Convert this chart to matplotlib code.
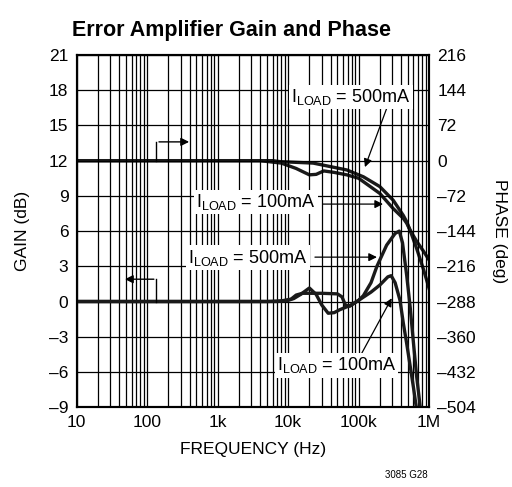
import numpy as np
import matplotlib
matplotlib.use('Agg')
import matplotlib.pyplot as plt
from matplotlib.ticker import FixedLocator, NullFormatter

plt.rcParams['font.family'] = ['Liberation Sans', 'DejaVu Sans']
plt.rcParams['mathtext.fontset'] = 'custom'
plt.rcParams['mathtext.rm'] = 'Liberation Sans'

# ── data ──
gain_100_f = [10, 5e3, 8e3, 11e3, 13e3, 16e3, 30e3, 50e3, 58e3, 65e3, 75e3, 100e3,
              150e3, 200e3, 260e3, 290e3, 330e3, 387e3, 430e3, 482e3, 600e3, 680e3]
gain_100 = [0, 0, 0.05, 0.2, 0.55, 0.7, 0.7, 0.65, 0.4, -0.3, -0.4, 0.1,
            0.8, 1.4, 2.1, 2.2, 1.6, 0.1, -1.8, -3.6, -7.3, -9.6]

gain_500_f = [10, 7e3, 10e3, 12e3, 15e3, 20e3, 25e3, 30e3, 37e3, 45e3, 54e3, 75e3,
              100e3, 117e3, 150e3, 182e3, 250e3, 330e3, 378e3, 420e3, 482e3,
              540e3, 600e3, 670e3, 770e3]
gain_500 = [0, 0, 0.1, 0.25, 0.6, 1.15, 0.6, -0.3, -1.0, -0.95, -0.7, -0.35,
            0.1, 0.5, 1.6, 3.0, 4.8, 5.8, 6.0, 5.0, 2.2, -0.5, -3.5, -6.5, -9.6]

phase_100_f = [10, 4e3, 8e3, 13e3, 20e3, 25e3, 32e3, 45e3, 68e3, 100e3, 117e3,
               200e3, 310e3, 431e3, 482e3, 537e3, 668e3, 832e3, 1e6]
phase_100 = [0, 0, -5, -16, -29, -28, -21, -24, -29, -36, -43,
             -67, -98, -118, -128, -142, -165, -185, -203]

phase_500_f = [10, 6e3, 7.7e3, 22.7e3, 68e3, 117e3, 200e3, 310e3, 431e3, 482e3,
               537e3, 668e3, 832e3, 1e6]
phase_500 = [0, 0, -2, -5, -19, -33, -53, -81, -112, -125, -142, -180, -222, -261]

x_ticks = [10, 100, 1e3, 1e4, 1e5, 1e6]
x_labels = ['10', '100', '1k', '10k', '100k', '1M']
gain_ticks = np.arange(-9, 22, 3)
phase_ticks = np.arange(-504, 217, 72)

load = r'I$_{\mathregular{LOAD}}$'

fig = plt.figure(figsize=(5.12, 4.87), dpi=100)
ax = fig.add_axes([0.150, 0.164, 0.688, 0.723])
ax2 = ax.twinx()

ax.set_xscale('log')
ax.set_xlim(10, 1e6)
ax.set_ylim(-9, 21)
ax2.set_ylim(-504, 216)

ax.set_xticks(x_ticks)
ax.set_xticklabels(x_labels)
ax.xaxis.set_minor_locator(FixedLocator(
    [m * 10.0 ** d for d in range(1, 6) for m in range(2, 10)]))
ax.xaxis.set_minor_formatter(NullFormatter())
ax.set_yticks(gain_ticks)
ax.set_yticklabels([str(v).replace('-', '\u2013') for v in gain_ticks])
ax2.set_yticks(phase_ticks)
ax2.set_yticklabels([str(v).replace('-', '\u2013') for v in phase_ticks])

ax.grid(True, which='both', axis='x', color='black', linewidth=0.9)
ax.grid(True, which='major', axis='y', color='black', linewidth=0.9)
for a in (ax, ax2):
    a.tick_params(which='both', length=0, labelsize=12.5, pad=6)
    for s in a.spines.values():
        s.set_linewidth(1.5)

ax.set_zorder(ax2.get_zorder() + 1)
ax.patch.set_visible(False)

ax.plot(gain_100_f, gain_100, color='#1a1a1a', lw=2.4)
ax.plot(gain_500_f, gain_500, color='#1a1a1a', lw=2.4)
ax2.plot(phase_100_f, phase_100, color='#1a1a1a', lw=2.4)
ax2.plot(phase_500_f, phase_500, color='#1a1a1a', lw=2.4)

# axis indicator arrows
ax.plot([135, 135], [12, 13.6], color='black', lw=1)
ax.annotate('', xy=(430, 13.6), xytext=(134, 13.6),
            arrowprops=dict(arrowstyle='-|>', color='black', lw=1,
                            mutation_scale=12))
ax.plot([135, 135], [0, 1.9], color='black', lw=1)
ax.annotate('', xy=(44, 1.9), xytext=(136, 1.9),
            arrowprops=dict(arrowstyle='-|>', color='black', lw=1,
                            mutation_scale=12))

box = dict(facecolor='white', edgecolor='none', pad=1.5)
arrow = dict(arrowstyle='-|>', color='black', lw=0.9, mutation_scale=12,
             shrinkA=0, shrinkB=0)

# labels with arrows (gain-axis coordinates)
ax.annotate('', xy=(123e3, 11.45), xytext=(252e3, 16.5), arrowprops=arrow)
ax.text(7.8e4, 17.4, load + ' = 500mA', fontsize=13, ha='center', va='center',
        bbox=box)
ax.annotate('', xy=(222e3, 8.3), xytext=(31e3, 8.3), arrowprops=arrow)
ax.text(3.5e3, 8.45, load + ' = 100mA', fontsize=13, ha='center', va='center',
        bbox=box)
ax.annotate('', xy=(182e3, 3.78), xytext=(24e3, 3.78), arrowprops=arrow)
ax.text(2.7e3, 3.74, load + ' = 500mA', fontsize=13, ha='center', va='center',
        bbox=box)
ax.annotate('', xy=(295e3, 0.28), xytext=(111e3, -4.4), arrowprops=arrow)
ax.text(4.85e4, -5.45, load + ' = 100mA', fontsize=13, ha='center', va='center',
        bbox=box)

ax.set_xlabel('FREQUENCY (Hz)', fontsize=12.5, labelpad=8)
ax.set_ylabel('GAIN (dB)', fontsize=12.5, labelpad=14)
ax2.set_ylabel('PHASE (deg)', fontsize=12.5, rotation=-90, labelpad=22)

fig.text(0.141, 0.937, 'Error Amplifier Gain and Phase', fontsize=15.5,
         fontweight='bold', ha='left', va='center')
fig.text(0.836, 0.025, '3085 G28', fontsize=7, ha='right', va='center')

fig.savefig('out.png', dpi=100)
